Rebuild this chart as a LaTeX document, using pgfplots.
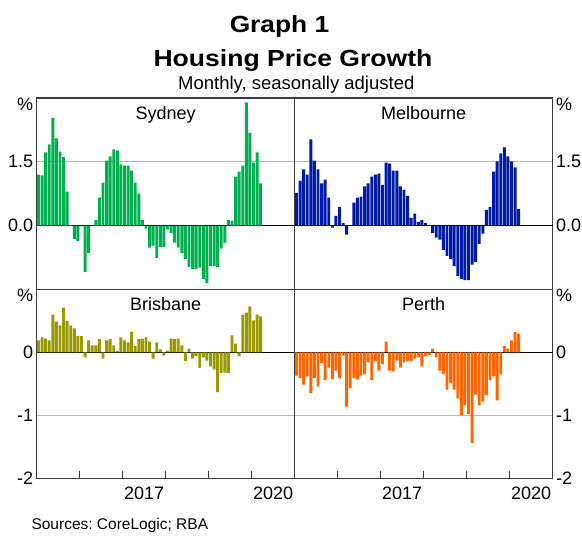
\documentclass[border=0pt]{standalone}
\usepackage{fontspec}
\setmainfont{Liberation Sans}
\usepackage{pgfplots}
\usepackage{pgfplotstable}
\pgfplotsset{compat=1.18}
\frenchspacing
\definecolor{syd}{RGB}{0,176,80}
\definecolor{mel}{RGB}{0,26,168}
\definecolor{bri}{RGB}{153,153,0}
\definecolor{per}{RGB}{255,102,0}
\definecolor{gridc}{RGB}{185,185,185}
\definecolor{framec}{RGB}{60,60,60}

\pgfplotstableread{
x syd mel bri per
0.5 1.20 0.77 0.19 -0.37
1.5 1.18 1.06 0.24 -0.41
2.5 1.72 1.32 0.22 -0.51
3.5 1.91 1.20 0.19 -0.38
4.5 2.53 2.03 0.60 -0.65
5.5 2.05 1.53 0.49 -0.41
6.5 1.74 1.32 0.43 -0.54
7.5 1.61 0.99 0.71 -0.17
8.5 0.80 1.08 0.50 -0.44
9.5 0.01 0.66 0.43 -0.24
10.5 -0.31 -0.05 0.38 -0.43
11.5 -0.36 0.23 0.26 -0.29
12.5 -0.02 0.44 0.26 -0.41
13.5 -1.09 0.06 -0.08 -0.05
14.5 -0.64 -0.21 0.19 -0.86
15.5 -0.01 0.01 0.11 -0.57
16.5 0.13 0.54 0.11 -0.41
17.5 0.66 0.66 0.21 -0.43
18.5 1.01 0.68 -0.10 -0.37
19.5 1.53 0.92 0.19 -0.35
20.5 1.63 0.99 0.21 -0.16
21.5 1.79 1.15 0.11 -0.44
22.5 1.77 1.20 0.02 -0.14
23.5 1.44 1.22 0.24 -0.29
24.5 1.41 0.96 0.19 -0.19
25.5 1.41 1.48 0.16 0.17
26.5 1.29 1.46 0.33 -0.29
27.5 1.01 1.29 0.10 -0.30
28.5 0.75 1.29 0.21 -0.13
29.5 0.13 0.92 0.22 -0.24
30.5 -0.07 0.84 0.24 -0.16
31.5 -0.52 0.70 0.17 -0.14
32.5 -0.47 0.18 -0.10 -0.14
33.5 -0.76 0.28 0.16 -0.10
34.5 -0.50 0.09 0.05 -0.08
35.5 -0.50 0.13 -0.05 -0.22
36.5 -0.09 0.06 0.03 -0.06
37.5 -0.17 0.01 0.22 -0.04
38.5 -0.40 -0.17 0.21 0.06
39.5 -0.52 -0.28 0.22 -0.08
40.5 -0.64 -0.33 0.11 -0.29
41.5 -0.78 -0.57 -0.14 -0.35
42.5 -0.97 -0.71 0.06 -0.59
43.5 -1.02 -0.78 -0.10 -0.48
44.5 -1.02 -0.95 -0.06 -0.59
45.5 -0.99 -1.18 -0.25 -0.73
46.5 -1.25 -1.25 -0.08 -1.00
47.5 -1.35 -1.28 -0.13 -0.84
48.5 -0.95 -1.28 -0.22 -0.98
49.5 -0.95 -0.92 -0.27 -1.44
50.5 -0.97 -0.85 -0.63 -0.67
51.5 -0.54 -0.43 -0.33 -0.84
52.5 -0.40 -0.19 -0.32 -0.78
53.5 0.13 0.37 -0.33 -0.68
54.5 0.11 0.44 0.27 -0.44
55.5 1.15 1.27 0.14 -0.38
56.5 1.27 1.51 -0.06 -0.76
57.5 1.41 1.70 0.60 -0.35
58.5 2.90 1.84 0.63 0.10
59.5 2.18 1.63 0.73 0.06
60.5 1.48 1.51 0.51 0.19
61.5 1.72 1.37 0.60 0.32
62.5 0.99 0.39 0.57 0.30
}\data

\pgfplotsset{
  panel/.style={
    scale only axis, width=258pt, xmin=0, xmax=72,
    axis line style={draw=framec, line width=1.3pt},
    ymajorgrids, major grid style={gridc, line width=0.9pt},
    major y tick style={draw=none},
    tick label style={font=\fontsize{18}{20}\selectfont},
    clip=false,
  },
  toppanel/.style={panel, height=191.4pt, ymin=-1.5, ymax=3,
    ytick={0,1.5}, yticklabels={0.0,1.5}, xtick=\empty},
  botpanel/.style={panel, height=189pt, ymin=-2, ymax=1,
    ytick={-2,-1,0}, yticklabels={-2,-1,0},
    xtick={12,24,36,48,60}, xticklabels={},
    xtick pos=left, tick align=inside,
    major x tick style={draw=framec, line width=1pt},
    major tick length=7pt,
    xticklabel style={yshift=-5pt},
    extra x ticks={30,66}, extra x tick labels={2017,2020},
    extra x tick style={major tick length=0pt, grid=none},
  },
}
\tikzset{
  ptitle/.style={anchor=base, yshift=-21pt, font=\fontsize{18}{20}\selectfont},
  pct/.style={font=\fontsize{18}{20}\selectfont, yshift=-6pt},
}

\begin{document}
\begin{tikzpicture}[x=1pt,y=1pt]
\useasboundingbox (0,0) rectangle (582,-538);

\node[anchor=base, font=\bfseries\fontsize{23.3}{26}\selectfont] at (279.5,-32.3) {\scalebox{1.13}[1]{Graph 1}};
\node[anchor=base, font=\bfseries\fontsize{23.3}{26}\selectfont] at (293,-66) {\scalebox{1.14}[1]{Housing Price Growth}};
\node[anchor=base, font=\fontsize{18.5}{20}\selectfont] at (296.3,-89.3) {Monthly, seasonally adjusted};
\node[font=\fontsize{15.5}{17}\selectfont, anchor=west] at (28,-525) {Sources: CoreLogic; RBA};

% Sydney
\begin{axis}[toppanel, at={(36.7pt,-98pt)}, anchor=north west]
\draw[black, line width=0.9pt] (axis cs:0,0) -- (axis cs:72,0);
\addplot[ybar, bar width=0.82, fill=syd, draw=none] table[x=x,y=syd]{\data};
\node[ptitle] at (rel axis cs:0.5,1) {Sydney};
\node[pct, anchor=east] at (rel axis cs:0,1) {\%};
\end{axis}

% Melbourne
\begin{axis}[toppanel, at={(294.7pt,-98pt)}, anchor=north west, yticklabel pos=right]
\draw[black, line width=0.9pt] (axis cs:0,0) -- (axis cs:72,0);
\addplot[ybar, bar width=0.82, fill=mel, draw=none] table[x=x,y=mel]{\data};
\node[ptitle] at (rel axis cs:0.5,1) {Melbourne};
\node[pct, anchor=west] at (rel axis cs:1,1) {\%};
\end{axis}

% Brisbane
\begin{axis}[botpanel, at={(36.7pt,-289.4pt)}, anchor=north west]
\draw[black, line width=0.9pt] (axis cs:0,0) -- (axis cs:72,0);
\addplot[ybar, bar width=0.82, fill=bri, draw=none] table[x=x,y=bri]{\data};
\node[ptitle] at (rel axis cs:0.5,1) {Brisbane};
\node[pct, anchor=east] at (rel axis cs:0,1) {\%};
\end{axis}

% Perth
\begin{axis}[botpanel, at={(294.7pt,-289.4pt)}, anchor=north west, yticklabel pos=right]
\draw[black, line width=0.9pt] (axis cs:0,0) -- (axis cs:72,0);
\addplot[ybar, bar width=0.82, fill=per, draw=none] table[x=x,y=per]{\data};
\node[ptitle] at (rel axis cs:0.5,1) {Perth};
\node[pct, anchor=west] at (rel axis cs:1,1) {\%};
\end{axis}
\end{tikzpicture}
\end{document}
